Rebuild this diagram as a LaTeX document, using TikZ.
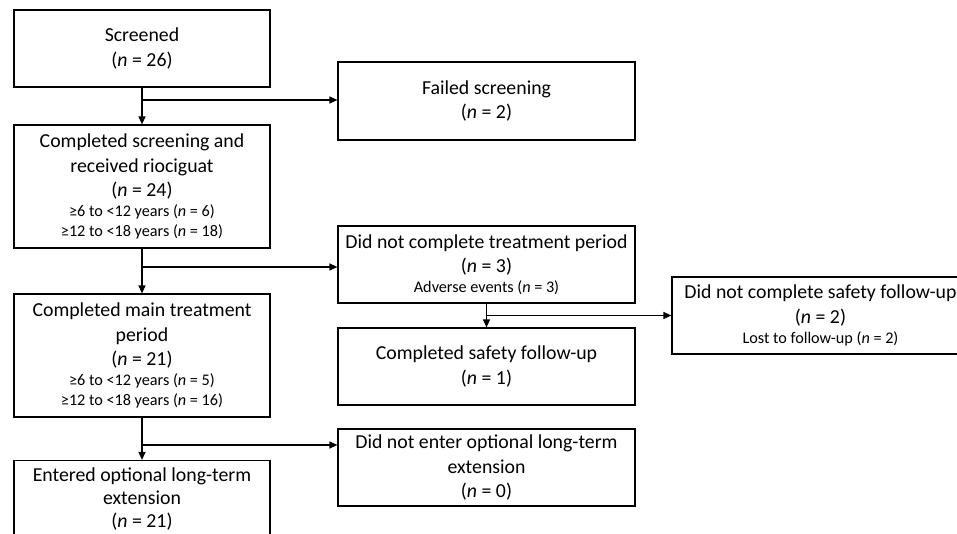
\documentclass[tikz,border=0pt]{standalone}
\usepackage{fontspec}
\setmainfont{Carlito}
\usetikzlibrary{arrows.meta}

\newcommand{\nn}[1]{(\textit{n} = #1)}
\newcommand{\sml}{\fontsize{16.2}{20}\selectfont}

\tikzset{
  box/.style={draw, line width=1.2pt, align=center, inner sep=0pt,
    font=\fontsize{19.8}{24.5}\selectfont},
  arr/.style={line width=1.2pt, -{Triangle[length=8pt,width=7pt]}}
}

\begin{document}
\begin{tikzpicture}[x=1pt, y=-1pt]
\useasboundingbox (0,0) rectangle (957,534);

% left column
\node[box, minimum width=256, minimum height=77] (scr) at (142,48.5)
  {Screened\\ \nn{26}};
\node[box, minimum width=256, minimum height=123] (rec) at (142,186.5)
  {Completed screening and\\ received riociguat\\ \nn{24}\\[-4.5pt]
   \sml ≥6 to <12 years \nn{6}\\[-4.5pt] \sml ≥12 to <18 years \nn{18}};
\node[box, minimum width=256, minimum height=123] (ctp) at (142,355.5)
  {Completed main treatment\\ period\\ \nn{21}\\[-4.5pt]
   \sml ≥6 to <12 years \nn{5}\\[-4.5pt] \sml ≥12 to <18 years \nn{16}};
\node[box, minimum width=256, minimum height=76] (ent) at (142,498.5)
  {Entered optional long-term\\[-1.5pt] extension\\[-1.5pt] \nn{21}};

% middle column
\node[box, minimum width=297, minimum height=78] (fail) at (486.5,101)
  {Failed screening\\ \nn{2}};
\node[box, minimum width=297, minimum height=77] (dnct) at (486.5,264.5)
  {Did not complete treatment period\\ \nn{3}\\[-4.5pt] \sml Adverse events \nn{3}};
\node[box, minimum width=297, minimum height=77] (cs) at (486.5,366.5)
  {Completed safety follow-up\\ \nn{1}};
\node[box, minimum width=297, minimum height=77] (dne) at (486.5,467.5)
  {Did not enter optional long-term\\ extension\\ \nn{0}};

% right column
\node[box, minimum width=297, minimum height=77] (dncs) at (820.5,315.5)
  {Did not complete safety follow-up\\ \nn{2}\\[-4.5pt] \sml Lost to follow-up \nn{2}};

% trunk connectors
\draw[arr] (scr.south) -- (rec.north);
\draw[arr] (rec.south) -- (ctp.north);
\draw[arr] (ctp.south) -- (ent.north);
\draw[arr] (dnct.south) -- (cs.north);

% side branches
\coordinate (b1) at (142,100);
\coordinate (b2) at (142,267);
\coordinate (b3) at (142,445);
\coordinate (b4) at (dnct.south |- dncs.west);
\draw[arr] (b1) -- (b1 -| fail.west);
\draw[arr] (b2) -- (b2 -| dnct.west);
\draw[arr] (b3) -- (b3 -| dne.west);
\draw[arr] (b4) -- (dncs.west);

\end{tikzpicture}
\end{document}
